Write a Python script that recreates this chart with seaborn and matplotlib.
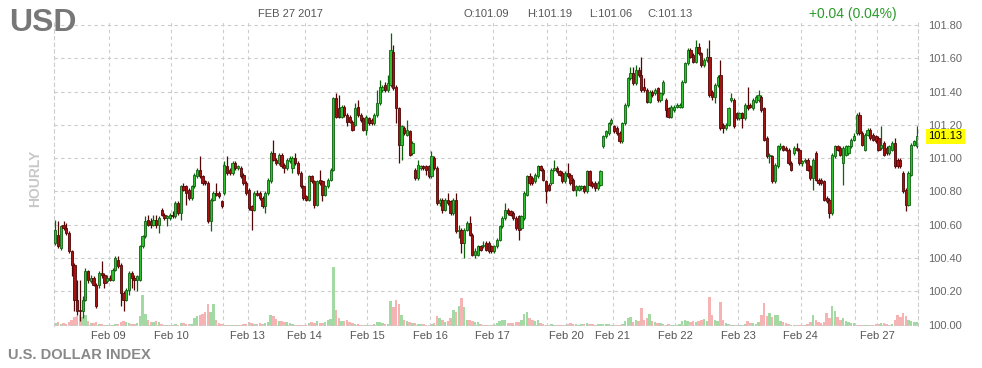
import numpy as np
import pandas as pd
import matplotlib
matplotlib.use("Agg")
import matplotlib.pyplot as plt
import matplotlib.transforms as mtransforms
from matplotlib import font_manager
import seaborn as sns

# ---------------- data (hourly candles, Feb 08 - Feb 27 2017) ----------------
opens = [
    # Feb 08
    100.49,100.54,100.46,100.60,100.58,100.55,100.44,100.36,100.15,100.09,100.08,100.15,100.32,100.26,100.28,100.24,100.24,100.31,100.30,100.26,
    100.28,100.27,100.33,100.39,100.36,100.19,100.15,100.21,100.31,100.28,100.27,100.27,100.47,100.53,100.63,100.62,100.60,100.63,
    100.60,100.69,100.66,100.64,100.64,100.66,100.65,100.73,100.67,100.83,100.83,100.81,100.76,100.83,100.89,100.93,100.89,100.86,100.85,100.62,100.75,100.79,100.79,100.74,
    100.79,100.95,100.93,100.91,100.97,100.94,100.94,100.90,100.85,100.81,100.71,100.69,100.79,100.79,100.76,100.71,100.79,
    100.86,101.03,100.99,100.97,101.02,100.96,100.94,100.98,100.94,101.00,100.97,100.91,100.83,100.77,
    100.75,100.89,100.86,100.72,100.87,100.86,100.78,100.83,100.87,100.93,101.36,101.30,101.25,101.31,101.26,101.25,101.22,
    101.20,101.31,101.26,101.24,101.17,101.24,101.23,101.21,101.26,
    101.33,101.41,101.44,101.41,101.44,101.64,101.43,101.30,101.08,101.18,101.14,101.16,101.03,100.93,100.88,100.94,
    100.95,100.95,100.95,100.89,101.00,100.94,100.73,100.75,100.69,100.75,100.74,100.67,100.75,
    100.56,100.57,100.49,100.57,100.61,100.54,100.42,100.42,100.47,100.47,100.49,
    100.49,100.47,100.44,100.47,100.51,100.59,100.64,100.69,100.68,100.67,100.64,100.65,100.58,100.64,100.78,100.89,100.88,100.86,100.89,100.95,100.93,100.86,
    100.84,100.85,100.93,100.94,100.92,100.91,100.86,100.91,100.90,100.87,100.81,100.81,100.82,100.83,100.80,100.92,100.85,100.85,100.82,100.84,
    101.07,101.13,101.15,101.21,101.19,101.18,101.15,101.10,101.21,101.32,101.48,101.51,101.45,101.53,101.50,101.43,101.41,101.34,101.40,101.39,
    101.42,101.35,101.39,101.35,101.30,101.25,101.29,101.31,101.31,101.31,101.46,101.57,101.65,101.62,101.58,101.67,101.63,101.56,101.59,
    101.61,101.40,101.37,101.44,101.50,101.20,101.18,101.20,101.35,
    101.35,101.27,101.24,101.27,101.24,101.32,101.32,101.30,101.34,101.35,101.37,101.30,101.12,101.01,
    101.01,100.86,100.95,101.06,101.07,101.06,101.05,100.97,101.03,101.06,101.05,100.97,100.98,
    100.99,100.95,100.88,101.03,100.87,
    100.87,100.86,100.76,100.75,100.67,101.01,101.07,101.06,100.97,101.02,101.03,101.07,101.11,101.15,101.26,101.15,101.05,101.14,101.17,101.14,
    101.13,101.12,101.06,101.09,101.06,101.03,101.05,101.09,100.99,100.99,100.91,100.81,100.72,100.90,101.08,101.07,
]
highs = [
    100.63,100.62,100.60,100.62,100.61,100.56,100.45,100.37,100.27,100.27,100.17,100.34,100.33,100.30,100.29,100.25,100.32,100.38,100.31,100.30,
    100.30,100.34,100.41,100.41,100.37,100.20,100.22,100.32,100.32,100.30,100.30,100.48,100.54,100.65,100.66,100.64,100.66,100.66,
    100.65,100.70,100.67,100.66,100.67,100.68,100.74,100.74,100.84,100.85,100.84,100.82,100.84,100.91,100.94,101.01,100.90,100.87,100.86,100.76,100.80,100.85,100.80,100.75,
    100.98,101.01,100.94,100.98,100.98,100.96,100.95,100.91,100.86,100.82,100.72,100.80,100.81,100.80,100.77,100.80,100.88,
    101.04,101.11,101.00,101.03,101.03,100.97,101.00,101.01,101.01,101.03,100.98,100.92,100.84,100.78,
    100.90,100.90,100.87,100.87,100.93,100.87,100.84,100.88,100.94,101.37,101.39,101.38,101.32,101.32,101.27,101.26,101.23,
    101.33,101.35,101.27,101.25,101.26,101.25,101.24,101.27,101.41,
    101.47,101.44,101.46,101.50,101.75,101.68,101.44,101.31,101.20,101.19,101.23,101.17,101.10,100.94,100.99,100.96,
    100.96,100.96,100.96,101.04,101.01,100.95,100.76,100.76,100.76,100.79,100.75,100.76,100.79,
    100.60,100.58,100.58,100.62,100.65,100.55,100.46,100.48,100.48,100.50,100.50,
    100.50,100.48,100.48,100.52,100.60,100.65,100.73,100.70,100.69,100.68,100.65,100.66,100.66,100.80,100.90,100.91,100.89,100.91,100.96,100.96,100.94,100.87,
    100.85,100.94,100.99,100.95,100.93,100.92,100.92,100.97,100.91,100.88,100.84,100.84,100.84,100.84,100.93,100.93,100.86,100.86,100.86,100.93,
    101.14,101.17,101.22,101.24,101.20,101.19,101.16,101.22,101.33,101.49,101.55,101.55,101.56,101.55,101.61,101.48,101.42,101.41,101.41,101.42,
    101.43,101.40,101.47,101.36,101.31,101.32,101.32,101.33,101.33,101.47,101.58,101.66,101.66,101.63,101.71,101.69,101.64,101.60,101.66,
    101.71,101.41,101.45,101.50,101.59,101.21,101.21,101.31,101.39,
    101.36,101.28,101.28,101.28,101.33,101.43,101.33,101.36,101.38,101.41,101.38,101.31,101.13,101.03,
    101.02,100.97,101.08,101.09,101.08,101.07,101.06,100.98,101.07,101.09,101.06,100.99,101.00,
    101.00,100.96,101.00,101.04,100.88,
    100.88,100.87,100.77,100.76,101.03,101.08,101.08,101.07,101.07,101.08,101.08,101.12,101.15,101.27,101.28,101.16,101.15,101.18,101.18,101.15,
    101.14,101.13,101.19,101.10,101.07,101.08,101.10,101.12,101.00,101.00,100.92,100.82,100.92,101.09,101.11,101.19,
]
lows = [
    100.48,100.46,100.45,100.57,100.54,100.43,100.29,100.08,100.06,100.02,100.04,100.14,100.25,100.25,100.23,100.10,100.22,100.28,100.22,100.25,
    100.26,100.26,100.32,100.34,100.11,100.08,100.14,100.18,100.22,100.21,100.20,100.26,100.46,100.52,100.59,100.58,100.59,100.58,
    100.55,100.65,100.63,100.59,100.63,100.64,100.64,100.66,100.63,100.80,100.72,100.75,100.75,100.82,100.88,100.88,100.84,100.84,100.61,100.56,100.74,100.77,100.76,100.70,
    100.78,100.90,100.90,100.90,100.93,100.93,100.88,100.84,100.78,100.69,100.57,100.68,100.77,100.75,100.70,100.67,100.78,
    100.85,100.98,100.96,100.96,100.94,100.91,100.93,100.97,100.91,100.96,100.90,100.82,100.75,100.74,
    100.74,100.85,100.70,100.71,100.84,100.74,100.77,100.82,100.86,100.92,101.24,101.24,101.24,101.25,101.19,101.21,101.16,
    101.19,101.25,101.22,101.16,101.14,101.20,101.20,101.20,101.25,
    101.32,101.40,101.40,101.40,101.43,101.41,101.21,100.97,100.99,101.14,101.13,101.01,101.02,100.87,100.87,100.93,
    100.93,100.90,100.88,100.88,100.93,100.72,100.71,100.67,100.68,100.72,100.66,100.66,100.55,
    100.52,100.43,100.40,100.56,100.53,100.41,100.40,100.41,100.44,100.46,100.44,
    100.43,100.43,100.43,100.46,100.50,100.58,100.63,100.66,100.65,100.63,100.57,100.51,100.57,100.63,100.77,100.84,100.84,100.85,100.88,100.92,100.86,100.73,
    100.80,100.84,100.92,100.91,100.89,100.85,100.85,100.88,100.84,100.80,100.77,100.80,100.81,100.79,100.79,100.83,100.82,100.80,100.81,100.83,
    101.06,101.12,101.14,101.20,101.15,101.14,101.09,101.09,101.20,101.31,101.47,101.44,101.44,101.49,101.40,101.40,101.33,101.33,101.37,101.38,
    101.34,101.34,101.38,101.25,101.24,101.24,101.28,101.30,101.30,101.30,101.45,101.56,101.60,101.57,101.57,101.62,101.55,101.55,101.58,
    101.37,101.35,101.33,101.43,101.17,101.15,101.17,101.19,101.34,
    101.18,101.23,101.23,101.18,101.23,101.29,101.30,101.29,101.33,101.34,101.28,101.10,101.00,100.97,
    100.85,100.85,100.94,101.05,101.04,101.04,100.96,100.92,101.02,101.04,100.96,100.95,100.97,
    100.92,100.87,100.81,100.86,100.84,
    100.84,100.74,100.73,100.64,100.66,101.00,101.04,101.01,100.84,101.01,101.02,101.06,101.10,101.14,101.14,101.07,101.04,101.13,101.11,101.10,
    101.09,101.04,101.05,101.01,101.02,101.02,101.04,100.94,100.94,100.94,100.79,100.68,100.71,100.89,101.07,101.06,
]
closes = [
    100.57,100.47,100.59,100.58,100.55,100.44,100.36,100.15,100.08,100.08,100.15,100.32,100.27,100.28,100.24,100.11,100.31,100.30,100.25,100.28,
    100.27,100.33,100.40,100.35,100.19,100.15,100.21,100.31,100.28,100.27,100.29,100.47,100.53,100.62,100.60,100.60,100.63,100.60,
    100.64,100.66,100.64,100.65,100.66,100.65,100.73,100.67,100.83,100.81,100.79,100.76,100.83,100.90,100.93,100.89,100.85,100.85,100.62,100.75,100.79,100.78,100.77,100.71,
    100.96,100.91,100.91,100.97,100.94,100.95,100.89,100.85,100.79,100.70,100.69,100.79,100.78,100.76,100.71,100.79,100.87,
    101.03,100.99,100.97,101.02,100.95,100.94,100.99,101.00,101.00,100.97,100.91,100.83,100.76,100.75,
    100.89,100.86,100.72,100.86,100.85,100.78,100.83,100.87,100.93,101.36,101.25,101.25,101.31,101.26,101.22,101.22,101.17,
    101.30,101.26,101.23,101.17,101.25,101.21,101.21,101.26,101.33,
    101.43,101.43,101.41,101.45,101.65,101.42,101.30,101.08,101.19,101.15,101.17,101.02,101.09,100.88,100.96,100.95,
    100.94,100.93,100.89,101.01,100.94,100.73,100.75,100.69,100.75,100.73,100.67,100.75,100.56,
    100.57,100.49,100.57,100.61,100.54,100.42,100.44,100.47,100.45,100.48,100.45,
    100.44,100.44,100.47,100.51,100.59,100.64,100.69,100.67,100.66,100.64,100.58,100.57,100.65,100.79,100.89,100.85,100.85,100.90,100.95,100.93,100.87,100.80,
    100.81,100.93,100.94,100.92,100.90,100.86,100.91,100.89,100.85,100.81,100.83,100.83,100.83,100.80,100.92,100.84,100.83,100.82,100.85,100.92,
    101.13,101.16,101.21,101.23,101.16,101.15,101.10,101.21,101.32,101.48,101.51,101.45,101.53,101.50,101.41,101.41,101.34,101.40,101.38,101.41,
    101.35,101.39,101.46,101.29,101.25,101.31,101.31,101.32,101.32,101.46,101.57,101.65,101.61,101.58,101.67,101.63,101.56,101.59,101.61,
    101.38,101.37,101.44,101.49,101.18,101.18,101.20,101.30,101.36,
    101.19,101.24,101.27,101.24,101.32,101.30,101.31,101.35,101.37,101.38,101.29,101.11,101.01,101.02,
    100.86,100.96,101.07,101.07,101.05,101.05,100.97,100.93,101.06,101.05,100.97,100.98,100.99,
    100.93,100.88,100.99,100.87,100.85,
    100.85,100.75,100.74,100.67,101.02,101.07,101.05,101.02,101.06,101.07,101.07,101.11,101.13,101.26,101.15,101.08,101.14,101.17,101.12,101.11,
    101.10,101.05,101.08,101.02,101.03,101.07,101.09,100.95,100.95,100.95,100.80,100.72,100.91,101.08,101.10,101.13,
]
volumes = [
    3,4,2,3,2,4,6,9,10,11,9,11,5,3,3,4,2,2,1,1,
    1,1,2,2,4,5,4,3,2,2,3,10,31,12,6,4,4,5,
    4,2,1,1,1,1,2,1,3,3,2,2,2,8,10,11,12,14,22,14,22,6,3,2,
    1,1,1,1,1,1,1,2,2,4,3,2,2,3,2,3,4,
    11,10,7,5,5,4,4,3,2,1,1,1,1,1,
    3,4,3,5,3,3,4,6,7,59,16,8,5,5,6,4,3,
    2,2,1,1,1,1,1,2,4,
    4,3,2,2,25,19,26,22,11,6,5,4,3,3,2,2,
    2,1,1,2,3,10,8,6,4,5,8,16,14,
    20,28,19,6,6,5,4,4,2,1,1,
    1,1,2,3,5,6,6,3,3,3,4,4,6,12,14,8,6,5,6,3,2,1,
    1,2,1,1,1,1,1,2,3,2,2,1,2,2,3,2,2,1,2,2,
    2,2,2,1,1,1,1,2,5,8,9,4,6,5,18,6,8,12,5,4,
    3,3,2,1,2,1,1,1,2,5,6,5,4,5,4,5,6,7,5,
    29,11,6,5,24,6,3,2,1,
    1,1,1,1,2,5,3,3,2,4,11,23,10,13,
    9,11,11,5,4,3,2,1,1,1,1,1,1,
    2,4,11,6,4,
    3,4,13,8,20,15,9,6,8,5,4,3,3,1,1,1,1,1,1,1,
    2,2,3,3,2,1,2,6,11,9,13,10,6,5,4,4,
]
day_labels = ["Feb 09", "Feb 10", "Feb 13", "Feb 14", "Feb 15", "Feb 16", "Feb 17",
              "Feb 20", "Feb 21", "Feb 22", "Feb 23", "Feb 24", "Feb 27"]
day_first_candle = [20, 43, 71, 92, 115, 138, 161, 188, 205, 228, 251, 274, 302]
week_first_candle = [62, 181, 294]
price_ticks = [100.00, 100.20, 100.40, 100.60, 100.80, 101.00, 101.20, 101.40, 101.60, 101.80]
last_price = 101.13

# ---------------- styling ----------------
sns.set_theme(style="white")
names = {f.name for f in font_manager.fontManager.ttflist}
HAS_NARROW = "Liberation Sans Narrow" in names
plt.rcParams["font.family"] = ["Liberation Sans", "DejaVu Sans"]
NARROW = ["Liberation Sans Narrow", "Liberation Sans", "DejaVu Sans"] if HAS_NARROW else ["Liberation Sans", "DejaVu Sans"]

n = len(closes)
df = pd.DataFrame({"t": np.arange(n), "open": opens, "high": highs,
                   "low": lows, "close": closes, "volume": volumes})
df["dir"] = np.where(df["close"] >= df["open"], "up", "down")

W, H = 982, 368
fig = plt.figure(figsize=(W / 100, H / 100), dpi=100)
fig.patch.set_facecolor("white")
rect = [54 / W, (H - 326) / H, 864 / W, 306 / H]
axv = fig.add_axes(rect)
ax = fig.add_axes(rect)
axv.set_zorder(1)
ax.set_zorder(2)
ax.patch.set_visible(False)

# volume bars (seaborn)
sns.barplot(data=df, x="t", y="volume", hue="dir", hue_order=["up", "down"],
            palette={"up": "#a3d9a3", "down": "#f5b3b3"}, native_scale=True,
            dodge=False, width=0.9, saturation=1, errorbar=None, legend=False,
            linewidth=0, ax=axv)
axv.set_xlim(-0.5, n - 0.5)
axv.set_ylim(0, 306)
axv.axis("off")

# candles
o = df["open"].to_numpy(); c = df["close"].to_numpy()
up = c >= o
edge = np.where(up, "#0e620e", "#520606")
face = np.where(up, "#2fbf2f", "#a61212")
ax.vlines(df["t"], df["low"], df["high"], colors=edge, linewidth=0.9, zorder=3)
ax.bar(df["t"], np.maximum(np.abs(c - o), 0.006), bottom=np.minimum(o, c), width=0.82,
       color=face, edgecolor=edge, linewidth=0.6, zorder=4)

ax.set_xlim(-0.5, n - 0.5)
ax.set_ylim(99.991, 101.830)

ax.yaxis.tick_right()
ax.set_yticks(price_ticks)
ax.set_yticklabels([f"{p:.2f}" for p in price_ticks])
ax.tick_params(axis="y", length=0, pad=7.5, labelsize=8, labelcolor="#666666")
ax.set_xticks([d - 0.5 for d in day_first_candle])
ax.set_xticklabels(day_labels)
ax.set_xticks([w - 0.5 for w in week_first_candle], minor=True)
ax.tick_params(axis="x", which="both", length=0, pad=3.5, labelsize=8, labelcolor="#555555")
ax.grid(True, which="both", axis="both", linestyle=(0, (3, 3)), color="#cccccc", linewidth=0.8)
ax.set_axisbelow(True)
for s in ("top", "bottom"):
    ax.spines[s].set_visible(False)
for s in ("left", "right"):
    ax.spines[s].set_linestyle((0, (3, 3)))
    ax.spines[s].set_color("#cccccc")
    ax.spines[s].set_linewidth(0.8)

# last price highlight
trans = mtransforms.blended_transform_factory(ax.transAxes, ax.transData)
ax.text(1.0 + 10.5 / 864, last_price, f"{last_price:.2f}", transform=trans,
        ha="left", va="center", fontsize=8, color="#000000",
        bbox=dict(boxstyle="square,pad=0.2", fc="#ffff00", ec="none"))

# header texts
def fx(px):
    return px / W

def fy(py):
    return 1 - py / H

fig.text(fx(9), fy(23), "USD", fontsize=27 if HAS_NARROW else 23, fontweight="bold",
         color="#777777", ha="left", va="center", family=NARROW)
fig.text(fx(258), fy(14), "FEB 27 2017", fontsize=8, color="#555555", ha="left", va="center")
fig.text(fx(464), fy(14), "O:101.09", fontsize=8, color="#555555", ha="left", va="center")
fig.text(fx(527), fy(14), "H:101.19", fontsize=8, color="#555555", ha="left", va="center")
fig.text(fx(589), fy(14), "L:101.06", fontsize=8, color="#555555", ha="left", va="center")
fig.text(fx(647), fy(14), "C:101.13", fontsize=8, color="#555555", ha="left", va="center")
fig.text(fx(809), fy(14), "+0.04 (0.04%)", fontsize=10, color="#2a9a2a", ha="left", va="center")
fig.text(fx(35), fy(178), "HOURLY", fontsize=10, fontweight="bold", color="#c8c8c8",
         rotation=90, ha="center", va="center")
fig.text(fx(8), fy(355), "U.S. DOLLAR INDEX", fontsize=13 if HAS_NARROW else 10.5,
         fontweight="bold", color="#888888", ha="left", va="center", family=NARROW)

fig.savefig("out.png", dpi=100, facecolor="white")
